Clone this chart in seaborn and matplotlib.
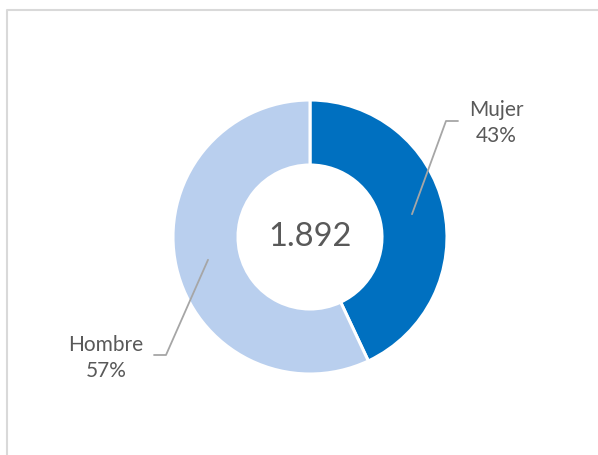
import numpy as np
import matplotlib.pyplot as plt
import seaborn as sns

labels = ["Mujer", "Hombre"]
shares = [43, 57]
total = "1.892"
colors = ["#0070C0", "#B9CFEE"]

sns.set_theme(style="white")
plt.rcParams['font.family'] = ['Lato', 'DejaVu Sans']

fig = plt.figure(figsize=(5.98, 4.56), dpi=100)
ax = fig.add_axes([0, 0, 1, 1])

# chart border (only top and left visible in the crop)
ax.plot([6.5, 6.5, 598], [0, 445.5, 445.5], color="#D9D9D9", lw=1.5, solid_capstyle="butt")

cx, cy, r_out, r_in = 310, 218, 137, 72
wedges, _ = ax.pie(shares, colors=colors, startangle=90, counterclock=False,
                   center=(cx, cy), radius=r_out, frame=True,
                   wedgeprops=dict(width=r_out - r_in, edgecolor="white", linewidth=2.2))
ax.set_xlim(0, 598)
ax.set_ylim(0, 456)
ax.set_aspect("equal")
ax.axis("off")

ax.text(cx, cy + 1, total, ha="center", va="center", fontsize=23.5, color="#595959")

# labels with leader lines
r_mid = (r_out + r_in) / 2
label_pos = {"Mujer": (496, 456 - 123), "Hombre": (106, 456 - 358)}
elbow = {"Mujer": [(446, 456 - 122), (458, 456 - 122)],
         "Hombre": [(166, 456 - 356), (154, 456 - 356)]}
for w, lab, s in zip(wedges, labels, shares):
    ang = np.deg2rad((w.theta1 + w.theta2) / 2)
    x0, y0 = cx + r_mid * np.cos(ang), cy + r_mid * np.sin(ang)
    pts = [(x0, y0)] + elbow[lab]
    ax.plot([p[0] for p in pts], [p[1] for p in pts], color="#A6A6A6", lw=1.3)
    tx, ty = label_pos[lab]
    ax.text(tx, ty, f"{lab}\n{s}%", ha="center", va="center", fontsize=15,
            color="#595959", linespacing=1.35)

fig.savefig("out.png", dpi=100, facecolor="white")
